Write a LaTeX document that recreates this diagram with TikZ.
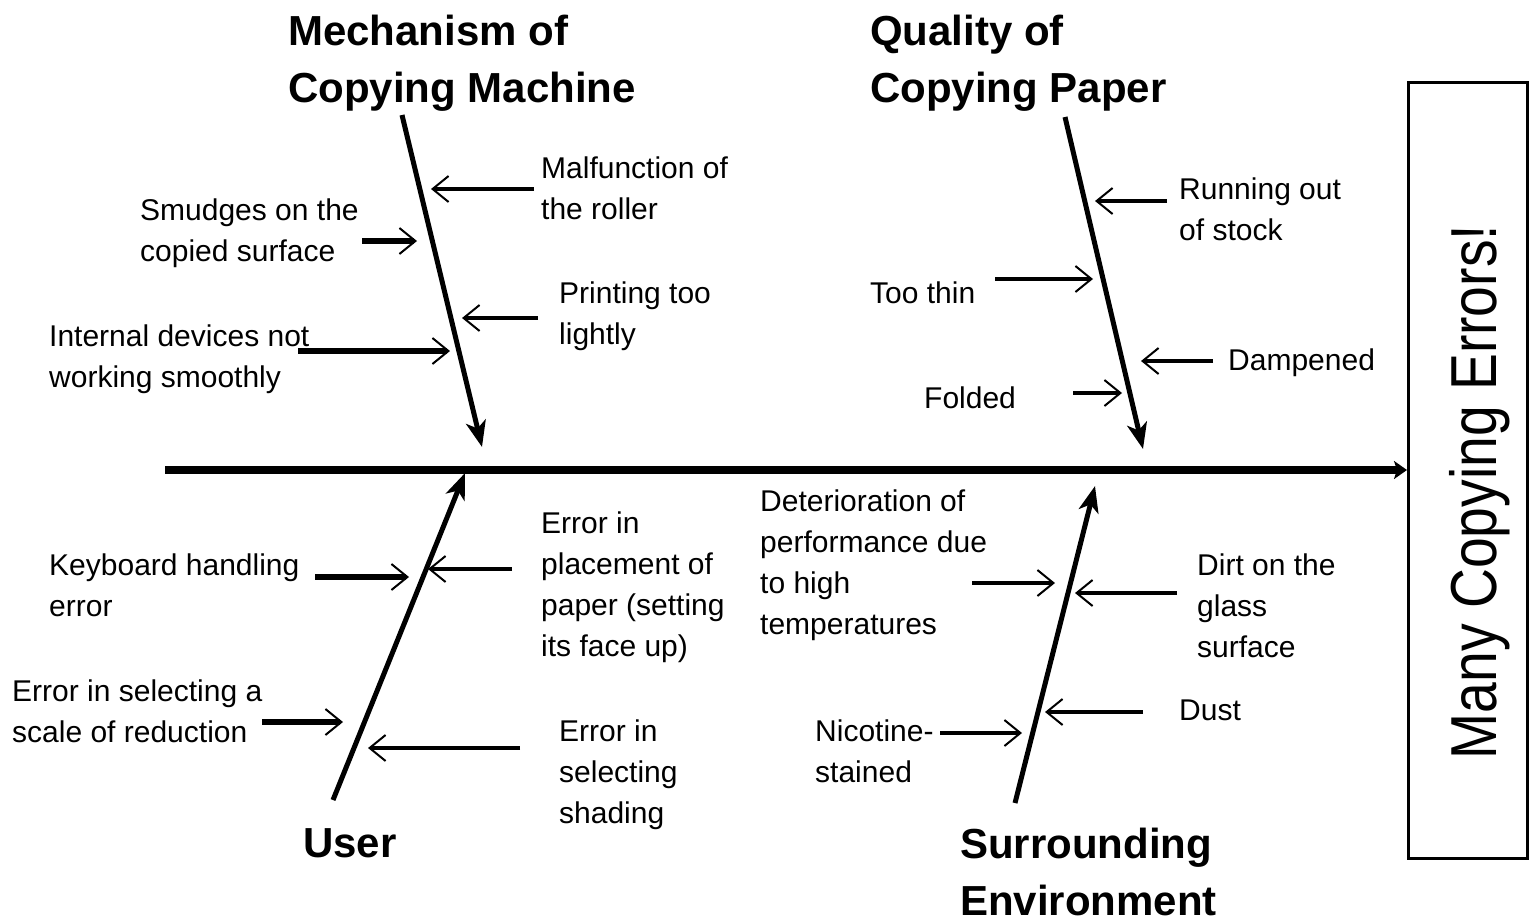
\documentclass[tikz,border=0pt]{standalone}
\usepackage{fontspec}
\setmainfont{Liberation Sans}
\usetikzlibrary{arrows.meta}

\begin{document}
\begin{tikzpicture}[x=1pt,y=-1pt,
  txt/.style={anchor=north west, inner sep=0pt, align=left,
    font=\fontsize{30}{41}\selectfont},
  head/.style={anchor=north west, inner sep=0pt, align=left,
    font=\fontsize{42}{57}\selectfont\bfseries},
  spine/.style={line width=8pt, -{Stealth[length=13pt,width=18pt,inset=3pt]}},
  bone/.style={line width=5pt, -{Stealth[length=26pt,width=20pt,inset=7pt]}},
  cause/.style={line width=3.5pt, -{Straight Barb[length=16pt,width=26pt,line width=2pt]}},
  causebold/.style={cause, line width=5.5pt},
  effectbox/.style={draw, line width=3pt},
]
\useasboundingbox (0,0) rectangle (1530,922);

% effect box with rotated label
\draw[effectbox] (1408,82) rectangle (1527,858);
\node[anchor=base, rotate=90, inner sep=0pt, font=\fontsize{65}{65}\selectfont]
  (effect) at (1496,492) {\scalebox{0.85}[1]{Many Copying Errors!}};

% main spine
\coordinate (s0) at (165,470);
\coordinate (s1) at (1407,470);
\draw[spine] (s0) -- (s1);

% category headings
\node[head] (hMech) at (288,15) {Mechanism of\\Copying Machine};
\node[head] (hQual) at (870,15) {Quality of\\Copying Paper};
\node[head] (hUser) at (303,828) {User};
\node[head] (hEnv)  at (960,828) {Surrounding\\Environment};

% main bones
\coordinate (mA) at (402,115);  \coordinate (mB) at (482,447);
\coordinate (qA) at (1065,117); \coordinate (qB) at (1143,449);
\coordinate (uA) at (333,800);  \coordinate (uB) at (465,473);
\coordinate (eA) at (1015,803); \coordinate (eB) at (1095,486);
\draw[bone] (mA) -- (mB);
\draw[bone] (qA) -- (qB);
\draw[bone] (uA) -- (uB);
\draw[bone] (eA) -- (eB);

% --- Mechanism of copying machine
\node[txt] (tMal) at (541,157) {Malfunction of\\the roller};
\node[txt] (tSmu) at (140,199) {Smudges on the\\copied surface};
\node[txt] (tPri) at (559,282) {Printing too\\lightly};
\node[txt] (tInt) at (49,325)  {Internal devices not\\working smoothly};
\coordinate (m1a) at (534,189); \coordinate (m1b) at (431,189);
\coordinate (m2a) at (362,241); \coordinate (m2b) at (417,241);
\coordinate (m3a) at (538,318); \coordinate (m3b) at (462,318);
\coordinate (m4a) at (298,351); \coordinate (m4b) at (450,351);
\draw[cause] (m1a) -- (m1b);
\draw[causebold] (m2a) -- (m2b);
\draw[cause] (m3a) -- (m3b);
\draw[causebold] (m4a) -- (m4b);

% --- Quality of copying paper
\node[txt] (tRun) at (1179,178) {Running out\\of stock};
\node[txt] (tThi) at (870,282)  {Too thin};
\node[txt] (tDam) at (1228,349) {Dampened};
\node[txt] (tFol) at (924,387)  {Folded};
\coordinate (q1a) at (1167,201); \coordinate (q1b) at (1095,201);
\coordinate (q2a) at (995,279);  \coordinate (q2b) at (1093,279);
\coordinate (q3a) at (1213,361); \coordinate (q3b) at (1141,361);
\coordinate (q4a) at (1073,393); \coordinate (q4b) at (1122,393);
\draw[cause] (q1a) -- (q1b);
\draw[cause] (q2a) -- (q2b);
\draw[cause] (q3a) -- (q3b);
\draw[cause] (q4a) -- (q4b);

% --- User
\node[txt] (tKey) at (49,554)  {Keyboard handling\\error};
\node[txt] (tPla) at (541,512) {Error in\\placement of\\paper (setting\\its face up)};
\node[txt] (tSca) at (12,680)  {Error in selecting a\\scale of reduction};
\node[txt] (tSha) at (559,720) {Error in\\selecting\\shading};
\coordinate (u1a) at (315,577); \coordinate (u1b) at (409,577);
\coordinate (u2a) at (512,569); \coordinate (u2b) at (428,569);
\coordinate (u3a) at (262,722); \coordinate (u3b) at (343,722);
\coordinate (u4a) at (520,748); \coordinate (u4b) at (368,748);
\draw[causebold] (u1a) -- (u1b);
\draw[cause] (u2a) -- (u2b);
\draw[causebold] (u3a) -- (u3b);
\draw[cause] (u4a) -- (u4b);

% --- Surrounding environment
\node[txt] (tDet) at (760,490)  {Deterioration of\\performance due\\to high\\temperatures};
\node[txt] (tDir) at (1197,554) {Dirt on the\\glass\\surface};
\node[txt] (tDus) at (1179,700) {Dust};
\node[txt] (tNic) at (815,720)  {Nicotine-\\stained};
\coordinate (e1a) at (972,583);  \coordinate (e1b) at (1055,583);
\coordinate (e2a) at (1177,593); \coordinate (e2b) at (1075,593);
\coordinate (e3a) at (1143,712); \coordinate (e3b) at (1045,712);
\coordinate (e4a) at (940,733);  \coordinate (e4b) at (1022,733);
\draw[cause] (e1a) -- (e1b);
\draw[cause] (e2a) -- (e2b);
\draw[cause] (e3a) -- (e3b);
\draw[cause] (e4a) -- (e4b);
\end{tikzpicture}
\end{document}
